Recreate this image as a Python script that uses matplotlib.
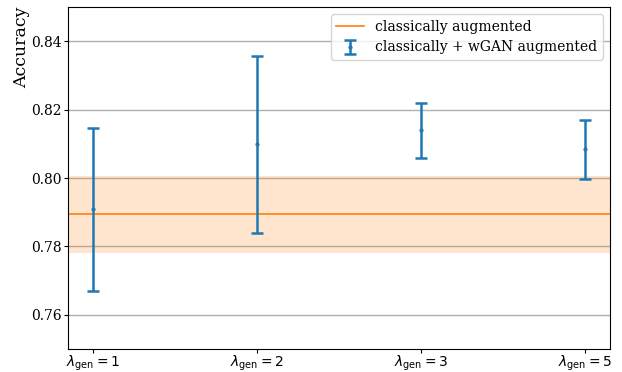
import matplotlib
matplotlib.use("Agg")
import matplotlib.pyplot as plt
import numpy as np

labels = [r"$\lambda_{\mathrm{gen}}=1$", r"$\lambda_{\mathrm{gen}}=2$",
          r"$\lambda_{\mathrm{gen}}=3$", r"$\lambda_{\mathrm{gen}}=5$"]
wgan_mean = [0.7909, 0.8098, 0.8139, 0.8084]
wgan_err = [0.0238, 0.0258, 0.0080, 0.0087]
classic_mean = 0.7894
classic_std = 0.0112

plt.rcParams['font.family'] = ['DejaVu Serif']
plt.rcParams['mathtext.fontset'] = 'dejavusans'

fig = plt.figure(figsize=(6.22, 3.72), dpi=100)
ax = fig.add_axes([68/622, 23/372, 542/622, 342/372])

x = np.arange(len(labels))
ax.set_xlim(-0.15, 3.15)
ax.axhspan(classic_mean - classic_std, classic_mean + classic_std,
           color='C1', alpha=0.2, lw=0, zorder=1)
ax.axhline(classic_mean, color='C1', lw=1.2, label='classically augmented', zorder=2)
ax.errorbar(x, wgan_mean, yerr=wgan_err, fmt='.', color='C0', markersize=4,
            elinewidth=1.8, capsize=4.5, capthick=1.8,
            label='classically + wGAN augmented', zorder=3)

ax.set_ylim(0.75, 0.85)
ax.set_yticks([0.76, 0.78, 0.80, 0.82, 0.84])
ax.yaxis.grid(True, color='#b0b0b0', lw=1, zorder=0)
ax.set_axisbelow(True)
ax.set_xticks(x)
ax.set_xticklabels(labels, fontsize=10)
ax.tick_params(axis='both', length=3)
ax.tick_params(axis='x', pad=0.5)
ax.tick_params(axis='y', labelsize=10, pad=1.5)
ax.set_ylabel('Accuracy', fontsize=12.5, labelpad=1, loc='top')
ax.legend(loc='upper right', fontsize=10)

fig.savefig('out.png', dpi=100)
